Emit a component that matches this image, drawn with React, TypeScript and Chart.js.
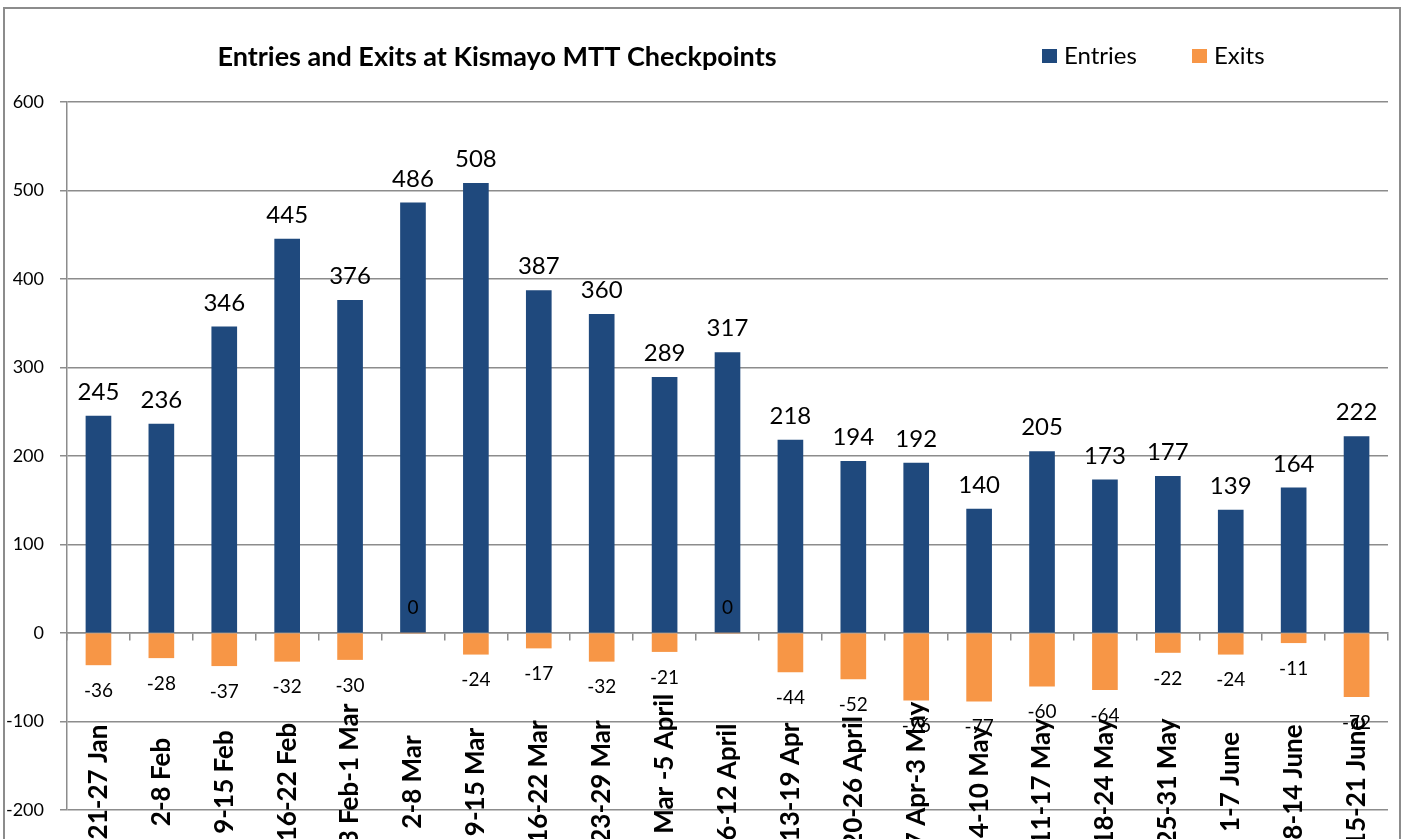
import React, { useEffect, useRef } from "react";
import { Chart, registerables } from "chart.js";

Chart.register(...registerables);

const TITLE = "Entries and Exits at Kismayo MTT Checkpoints";
const CATEGORIES = [
  "21-27 Jan", "2-8 Feb", "9-15 Feb", "16-22 Feb", "23 Feb-1 Mar", "2-8 Mar",
  "9-15 Mar", "16-22 Mar", "23-29 Mar", "30 Mar -5 April", "6-12 April",
  "13-19 Apr", "20-26 April", "27 Apr-3 May", "4-10 May", "11-17 May",
  "18-24 May", "25-31 May", "1-7 June", "8-14 June", "15-21 June",
];
const ENTRIES = [245, 236, 346, 445, 376, 486, 508, 387, 360, 289, 317, 218, 194, 192, 140, 205, 173, 177, 139, 164, 222];
const EXITS = [-36, -28, -37, -32, -30, 0, -24, -17, -32, -21, 0, -44, -52, -76, -77, -60, -64, -22, -24, -11, -72];
const SERIES_NAMES = ["Entries", "Exits"];
const Y_MIN = -200;
const Y_MAX = 600;
const Y_STEP = 100;

const BLUE = "#1F497D";
const ORANGE = "#F79646";
const GRAY = "#8c8c8c";
const FONT = "Lato, 'Open Sans', sans-serif";

const decorPlugin = {
  id: "decor",
  beforeDraw(chart: any) {
    const ctx = chart.ctx;
    ctx.save();
    ctx.fillStyle = "#ffffff";
    ctx.fillRect(0, 0, chart.width, chart.height);
    ctx.strokeStyle = GRAY;
    ctx.lineWidth = 2;
    ctx.strokeRect(4, 8, 1396, 900);
    // title
    ctx.fillStyle = "#000";
    ctx.font = `bold 27px ${FONT}`;
    ctx.textAlign = "center";
    ctx.textBaseline = "middle";
    ctx.fillText(TITLE, 497, 57);
    // legend
    const items = [
      { name: SERIES_NAMES[0], color: BLUE, x: 1042 },
      { name: SERIES_NAMES[1], color: ORANGE, x: 1192 },
    ];
    ctx.font = `24px ${FONT}`;
    ctx.textAlign = "left";
    items.forEach((it) => {
      ctx.fillStyle = it.color;
      ctx.fillRect(it.x, 49, 15, 14);
      ctx.fillStyle = "#000";
      ctx.fillText(it.name, it.x + 22, 56);
    });
    ctx.restore();
  },
  afterDatasetsDraw(chart: any) {
    const ctx = chart.ctx;
    const yScale = chart.scales.y;
    const zeroY = yScale.getPixelForValue(0);
    ctx.save();
    ctx.fillStyle = "#000";
    ctx.textAlign = "center";
    ctx.textBaseline = "middle";
    const m0 = chart.getDatasetMeta(0);
    ctx.font = `24px ${FONT}`;
    m0.data.forEach((bar: any, i: number) => {
      ctx.fillText(String(ENTRIES[i]), bar.x, bar.y - 24);
    });
    const m1 = chart.getDatasetMeta(1);
    ctx.font = `19px ${FONT}`;
    m1.data.forEach((bar: any, i: number) => {
      const v = EXITS[i];
      const y = v === 0 ? zeroY - 25 : bar.y + 26;
      ctx.fillText(String(v), bar.x, y);
    });
    ctx.restore();
  },
  afterDraw(chart: any) {
    const ctx = chart.ctx;
    const xScale = chart.scales.x;
    ctx.save();
    ctx.fillStyle = "#000";
    ctx.font = `bold 26px ${FONT}`;
    ctx.textAlign = "center";
    ctx.textBaseline = "middle";
    CATEGORIES.forEach((c, i) => {
      const x = xScale.getPixelForValue(i);
      ctx.save();
      ctx.translate(x, 782);
      ctx.rotate(-Math.PI / 2);
      ctx.fillText(c, 0, 0);
      ctx.restore();
    });
    ctx.restore();
  },
};

export default function App() {
  const ref = useRef<HTMLCanvasElement | null>(null);
  useEffect(() => {
    if (!ref.current) return;
    const chart = new Chart(ref.current, {
      type: "bar",
      data: {
        labels: CATEGORIES,
        datasets: [
          {
            label: SERIES_NAMES[0],
            data: ENTRIES,
            backgroundColor: BLUE,
            grouped: false,
            barThickness: 25,
          } as any,
          {
            label: SERIES_NAMES[1],
            data: EXITS,
            backgroundColor: ORANGE,
            grouped: false,
            barThickness: 25,
          } as any,
        ],
      },
      options: {
        responsive: false,
        animation: false,
        devicePixelRatio: 1,
        layout: { padding: { left: 0, top: 102, right: 17, bottom: 29 } },
        plugins: {
          legend: { display: false },
          title: { display: false },
          tooltip: { enabled: false },
        },
        scales: {
          x: {
            type: "category",
            position: { y: 0 } as any,
            offset: true,
            grid: {
              display: true,
              drawOnChartArea: false,
              drawTicks: true,
              tickLength: 7,
              color: GRAY,
              lineWidth: 1.5,
              offset: true,
            },
            border: { display: true, color: GRAY, width: 1.5 },
            ticks: { display: false },
          },
          y: {
            min: Y_MIN,
            max: Y_MAX,
            ticks: {
              stepSize: Y_STEP,
              color: "#000",
              padding: 16,
              font: { family: FONT, size: 18 },
            },
            grid: { color: GRAY, lineWidth: 1.5, tickLength: 7 },
            border: { display: true, color: GRAY, width: 1.5 },
            afterFit(scale: any) {
              scale.width = 67;
            },
          },
        },
      },
      plugins: [decorPlugin],
    });
    return () => chart.destroy();
  }, []);
  return (
    <div style={{ position: "absolute", left: 0, top: 0, width: 1405, height: 839, overflow: "hidden", background: "#fff" }}>
      <canvas ref={ref} width={1405} height={839} style={{ display: "block" }} />
    </div>
  );
}
